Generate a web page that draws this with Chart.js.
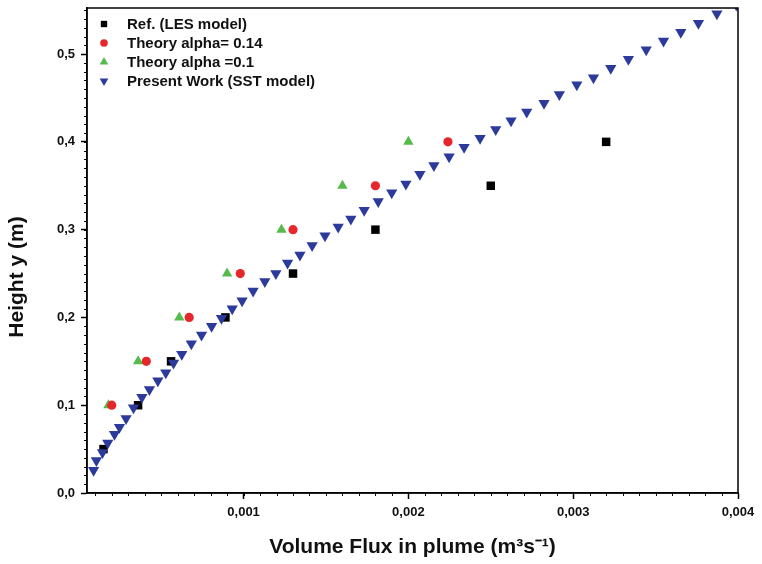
<!DOCTYPE html>
<html>
<head>
<meta charset="utf-8">
<script src="https://cdn.jsdelivr.net/npm/chart.js@4.4.1/dist/chart.umd.min.js"></script>
<style>
  html, body { margin: 0; padding: 0; background: #fff; }
</style>
</head>
<body>
<canvas id="chart" width="762" height="564"></canvas>
<script>
// Ref. (LES model)
const lesX = [0.00015, 0.00036, 0.00056, 0.00089, 0.0013, 0.0018, 0.0025, 0.0032];
const lesY = [0.05, 0.10, 0.15, 0.20, 0.25, 0.30, 0.35, 0.40];

// Theory alpha = 0.14
const a14X = [0.0002, 0.00041, 0.00067, 0.00098, 0.0013, 0.0018, 0.00224];
const a14Y = [0.10, 0.15, 0.20, 0.25, 0.30, 0.35, 0.40];

// Theory alpha = 0.1
const a10X = [0.00018, 0.00036, 0.00061, 0.0009, 0.00123, 0.0016, 0.002];
const a10Y = [0.10, 0.15, 0.20, 0.25, 0.30, 0.35, 0.40];

// Present Work (SST model)
const sstX = [0.00009, 0.000107, 0.000144, 0.000176, 0.000217, 0.000247, 0.000287, 0.000332,
  0.000383, 0.000429, 0.00048, 0.000528, 0.000575, 0.000625, 0.000683, 0.000745,
  0.000806, 0.000866, 0.000931, 0.000991, 0.001058, 0.001129, 0.001196, 0.001267,
  0.001342, 0.001416, 0.001494, 0.001574, 0.001651, 0.001732, 0.001817, 0.001899,
  0.001985, 0.00207, 0.002155, 0.002247, 0.002338, 0.002435, 0.00253, 0.002623,
  0.002718, 0.002823, 0.002916, 0.003022, 0.003123, 0.003228, 0.003335, 0.003443,
  0.003548, 0.003653, 0.00376, 0.003872, 0.00399];
const sstY = [0.026, 0.037, 0.046, 0.057, 0.067, 0.075, 0.085, 0.097,
  0.109, 0.118, 0.128, 0.137, 0.148, 0.158, 0.170, 0.180,
  0.190, 0.199, 0.210, 0.219, 0.230, 0.241, 0.250, 0.262,
  0.271, 0.282, 0.293, 0.303, 0.312, 0.322, 0.332, 0.342,
  0.352, 0.363, 0.373, 0.383, 0.394, 0.404, 0.414, 0.424,
  0.434, 0.444, 0.454, 0.465, 0.473, 0.484, 0.494, 0.505,
  0.515, 0.525, 0.535, 0.546, 0.556];

const xTicks = [0.001, 0.002, 0.003, 0.004];
const yTicks = [0, 0.1, 0.2, 0.3, 0.4, 0.5];

const seriesNames = ['Ref. (LES model)', 'Theory alpha= 0.14', 'Theory alpha =0.1', 'Present Work (SST model)'];
const colors = ['#000000', '#e5262b', '#55bb4c', '#2c3a9c'];
const yTitle = 'Height y (m)';

const FONT = "'Liberation Sans', Arial, sans-serif";

function pts(xs, ys) {
  return xs.map((x, i) => ({ x: x, y: ys[i] }));
}

// minor ticks, top/right frame, y title and the legend in the upper left
const decor = {
  id: 'decor',
  afterDraw(chart) {
    const ctx = chart.ctx;
    const a = chart.chartArea;
    const xs = chart.scales.x;
    const ys = chart.scales.y;
    ctx.save();
    ctx.strokeStyle = '#000';
    ctx.lineWidth = 1;
    ctx.beginPath();
    for (let i = 0; i <= 55; i++) {
      const p = Math.round(ys.getPixelForValue(i / 100)) + 0.5;
      ctx.moveTo(a.left - 3, p);
      ctx.lineTo(a.left, p);
    }
    for (let i = 1; i <= 40; i++) {
      const p = Math.round(xs.getPixelForValue(i / 10000)) + 0.5;
      ctx.moveTo(p, a.bottom);
      ctx.lineTo(p, a.bottom + 3);
    }
    ctx.stroke();

    ctx.lineWidth = 1.5;
    ctx.strokeRect(a.left, a.top, a.right - a.left, a.bottom - a.top);

    // y title, a bit below the middle of the axis like the original
    ctx.save();
    ctx.translate(23, 277);
    ctx.rotate(-Math.PI / 2);
    ctx.font = 'bold 21px ' + FONT;
    ctx.fillStyle = '#111';
    ctx.textAlign = 'center';
    ctx.textBaseline = 'alphabetic';
    ctx.fillText(yTitle, 0, 0);
    ctx.restore();

    // legend
    const styles = [
      { pointStyle: 'rect', radius: 4.5, rotation: 0 },
      { pointStyle: 'circle', radius: 3.8, rotation: 0 },
      { pointStyle: 'triangle', radius: 5, rotation: 0 },
      { pointStyle: 'triangle', radius: 5, rotation: 180 }
    ];
    const rows = [24, 43, 62, 81];
    ctx.font = 'bold 15px ' + FONT;
    ctx.textBaseline = 'middle';
    ctx.textAlign = 'left';
    seriesNames.forEach((name, i) => {
      ctx.fillStyle = colors[i];
      Chart.helpers.drawPoint(ctx, { ...styles[i], borderWidth: 0 }, 104, rows[i]);
      ctx.fillStyle = '#111';
      ctx.fillText(name, 127, rows[i] + 1);
    });
    ctx.restore();
  }
};

new Chart(document.getElementById('chart'), {
  type: 'scatter',
  data: {
    datasets: [
      { label: seriesNames[0], data: pts(lesX, lesY), pointStyle: 'rect', pointRadius: 6,
        backgroundColor: colors[0], borderWidth: 0, order: 3 },
      { label: seriesNames[1], data: pts(a14X, a14Y), pointStyle: 'circle', pointRadius: 4.6,
        backgroundColor: colors[1], borderWidth: 0, order: 1 },
      { label: seriesNames[2], data: pts(a10X, a10Y), pointStyle: 'triangle', pointRadius: 6,
        backgroundColor: colors[2], borderWidth: 0, order: 2 },
      { label: seriesNames[3], data: pts(sstX, sstY), pointStyle: 'triangle', pointRadius: 6.5,
        rotation: 180, backgroundColor: colors[3], borderWidth: 0, order: 0 }
    ]
  },
  options: {
    responsive: false,
    animation: false,
    layout: { padding: { top: 8, right: 24, left: 0, bottom: 0 } },
    plugins: {
      legend: { display: false },
      tooltip: { enabled: false }
    },
    scales: {
      x: {
        type: 'linear',
        min: 0.00005,
        max: 0.004,
        afterBuildTicks: s => { s.ticks = xTicks.map(v => ({ value: v })); },
        afterFit: s => { s.height = 71; s.paddingLeft = 0; },
        ticks: {
          callback: v => v.toFixed(3).replace('.', ','),
          font: { family: FONT, size: 13, weight: 'bold' },
          color: '#111',
          padding: 6,
          maxRotation: 0
        },
        grid: { drawOnChartArea: false, drawTicks: true, tickLength: 6, color: '#000', tickWidth: 1.5 },
        border: { display: true, color: '#000', width: 1.5 },
        title: {
          display: true,
          text: 'Volume Flux in plume (m³s⁻¹)',
          font: { family: FONT, size: 21, weight: 'bold' },
          color: '#111',
          padding: { top: 0, bottom: 4 }
        }
      },
      y: {
        type: 'linear',
        min: 0,
        max: 0.5525,
        afterBuildTicks: s => { s.ticks = yTicks.map(v => ({ value: v })); },
        afterFit: s => { s.width = 87; s.paddingTop = 0; s.paddingBottom = 0; },
        ticks: {
          callback: v => v.toFixed(1).replace('.', ','),
          font: { family: FONT, size: 13, weight: 'bold' },
          color: '#111',
          padding: 6
        },
        grid: { drawOnChartArea: false, drawTicks: true, tickLength: 6, color: '#000', tickWidth: 1.5 },
        border: { display: true, color: '#000', width: 1.5 },
        title: { display: false }
      }
    }
  },
  plugins: [decor]
});
</script>
</body>
</html>
